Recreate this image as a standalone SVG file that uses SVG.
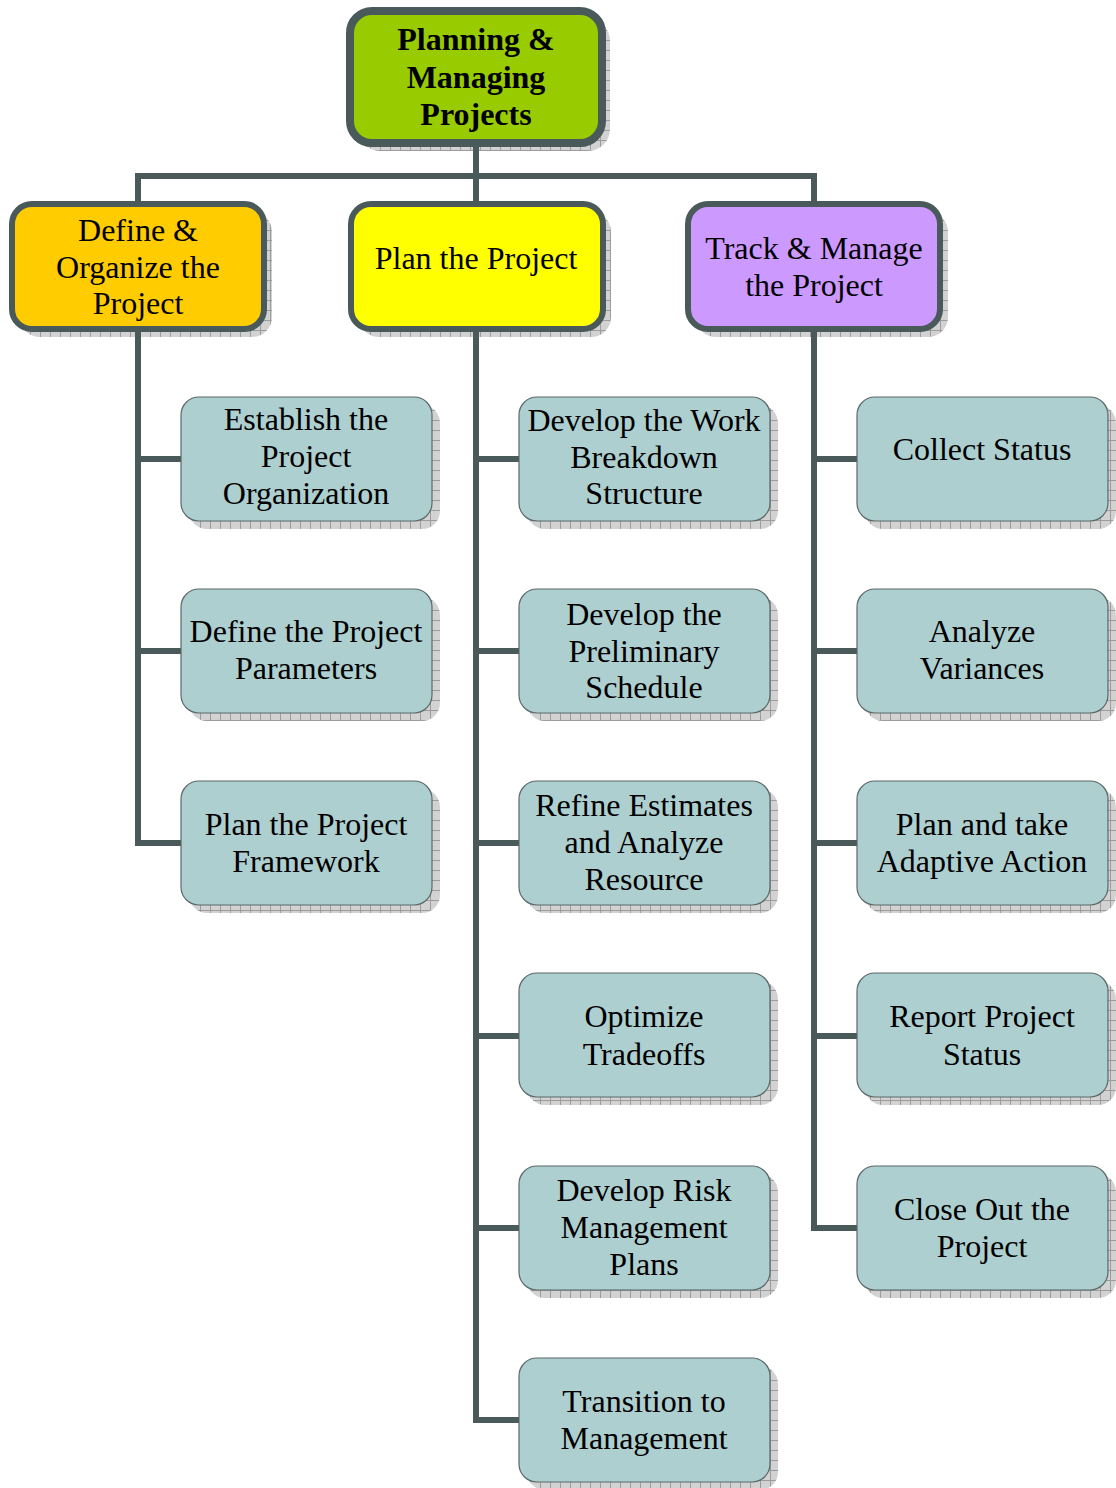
<svg xmlns="http://www.w3.org/2000/svg" width="1116" height="1488" viewBox="0 0 1116 1488">
  <defs>
    <!-- hatched drop-shadow fill -->
    <pattern id="hatch" width="10" height="10" patternUnits="userSpaceOnUse">
      <rect width="10" height="10" fill="#d2d2d2"/>
      <path d="M0 0.5H10M0.5 0V10" stroke="#9c9c9c" stroke-width="1"/>
    </pattern>
  </defs>
  <style>
    .shadow { fill: url(#hatch); }
    .top { fill: #99cc00; stroke: #4a5959; stroke-width: 8; }
    .l2 { stroke: #4a5959; stroke-width: 6; }
    .l3 { fill: #aecfd0; stroke: #5b6868; stroke-width: 1.2; }
    .wire { fill: none; stroke: #4a5959; stroke-width: 6; stroke-linejoin: miter; }
    text { font-family: "Liberation Serif", "Times New Roman", serif; font-size: 32px; fill: #000; text-anchor: middle; }
    .bold { font-weight: bold; }
  </style>
  <rect width="1116" height="1488" fill="#ffffff"/>

  <!-- drop shadows -->
  <g id="shadows">
    <rect class="shadow" x="358" y="19" width="252" height="132" rx="22"/>
    <rect class="shadow" x="20" y="212" width="252" height="125" rx="20"/>
    <rect class="shadow" x="359" y="212" width="252" height="125" rx="20"/>
    <rect class="shadow" x="696" y="212" width="252" height="125" rx="20"/>
    <rect class="shadow" x="189" y="405" width="251" height="124" rx="18"/>
    <rect class="shadow" x="189" y="597" width="251" height="124" rx="18"/>
    <rect class="shadow" x="189" y="789" width="251" height="124" rx="18"/>
    <rect class="shadow" x="527" y="405" width="251" height="124" rx="18"/>
    <rect class="shadow" x="527" y="597" width="251" height="124" rx="18"/>
    <rect class="shadow" x="527" y="789" width="251" height="124" rx="18"/>
    <rect class="shadow" x="527" y="981" width="251" height="124" rx="18"/>
    <rect class="shadow" x="527" y="1174" width="251" height="124" rx="18"/>
    <rect class="shadow" x="527" y="1366" width="251" height="124" rx="18"/>
    <rect class="shadow" x="865" y="405" width="251" height="124" rx="18"/>
    <rect class="shadow" x="865" y="597" width="251" height="124" rx="18"/>
    <rect class="shadow" x="865" y="789" width="251" height="124" rx="18"/>
    <rect class="shadow" x="865" y="981" width="251" height="124" rx="18"/>
    <rect class="shadow" x="865" y="1174" width="251" height="124" rx="18"/>
  </g>

  <!-- connectors -->
  <g id="connectors">
    <path class="wire" d="M476 143V204"/>
    <path class="wire" d="M138 204V176H814V204"/>
    <path class="wire" d="M138 329V843H181M138 459H181M138 651H181"/>
    <path class="wire" d="M476 329V1420H519M476 459H519M476 651H519M476 843H519M476 1036H519M476 1228H519"/>
    <path class="wire" d="M814 329V1228H857M814 459H857M814 651H857M814 843H857M814 1036H857"/>
  </g>

  <!-- root -->
  <g id="planning-managing-projects">
    <rect class="top" x="350" y="11" width="252" height="132" rx="22"/>
    <text class="bold" x="476" y="50">Planning &amp;</text>
    <text class="bold" x="476" y="88">Managing</text>
    <text class="bold" x="476" y="125">Projects</text>
  </g>

  <!-- second level -->
  <g id="define-organize">
    <rect class="l2" fill="#ffcc00" x="12" y="204" width="252" height="125" rx="20"/>
    <text x="138" y="241">Define &amp;</text>
    <text x="138" y="278">Organize the</text>
    <text x="138" y="314">Project</text>
  </g>
  <g id="plan-project">
    <rect class="l2" fill="#ffff00" x="351" y="204" width="252" height="125" rx="20"/>
    <text x="476" y="269">Plan the Project</text>
  </g>
  <g id="track-manage">
    <rect class="l2" fill="#cc99ff" x="688" y="204" width="252" height="125" rx="20"/>
    <text x="814" y="259">Track &amp; Manage</text>
    <text x="814" y="296">the Project</text>
  </g>

  <!-- left column -->
  <g id="establish-organization">
    <rect class="l3" x="181" y="397" width="251" height="124" rx="18"/>
    <text x="306" y="430">Establish the</text>
    <text x="306" y="467">Project</text>
    <text x="306" y="504">Organization</text>
  </g>
  <g id="define-parameters">
    <rect class="l3" x="181" y="589" width="251" height="124" rx="18"/>
    <text x="306" y="642">Define the Project</text>
    <text x="306" y="679">Parameters</text>
  </g>
  <g id="plan-framework">
    <rect class="l3" x="181" y="781" width="251" height="124" rx="18"/>
    <text x="306" y="835">Plan the Project</text>
    <text x="306" y="872">Framework</text>
  </g>

  <!-- middle column -->
  <g id="develop-wbs">
    <rect class="l3" x="519" y="397" width="251" height="124" rx="18"/>
    <text x="644" y="431">Develop the Work</text>
    <text x="644" y="468">Breakdown</text>
    <text x="644" y="504">Structure</text>
  </g>
  <g id="preliminary-schedule">
    <rect class="l3" x="519" y="589" width="251" height="124" rx="18"/>
    <text x="644" y="625">Develop the</text>
    <text x="644" y="662">Preliminary</text>
    <text x="644" y="698">Schedule</text>
  </g>
  <g id="refine-estimates">
    <rect class="l3" x="519" y="781" width="251" height="124" rx="18"/>
    <text x="644" y="816">Refine Estimates</text>
    <text x="644" y="853">and Analyze</text>
    <text x="644" y="890">Resource</text>
  </g>
  <g id="optimize-tradeoffs">
    <rect class="l3" x="519" y="973" width="251" height="124" rx="18"/>
    <text x="644" y="1027">Optimize</text>
    <text x="644" y="1065">Tradeoffs</text>
  </g>
  <g id="risk-plans">
    <rect class="l3" x="519" y="1166" width="251" height="124" rx="18"/>
    <text x="644" y="1201">Develop Risk</text>
    <text x="644" y="1238">Management</text>
    <text x="644" y="1275">Plans</text>
  </g>
  <g id="transition">
    <rect class="l3" x="519" y="1358" width="251" height="124" rx="18"/>
    <text x="644" y="1412">Transition to</text>
    <text x="644" y="1449">Management</text>
  </g>

  <!-- right column -->
  <g id="collect-status">
    <rect class="l3" x="857" y="397" width="251" height="124" rx="18"/>
    <text x="982" y="460">Collect Status</text>
  </g>
  <g id="analyze-variances">
    <rect class="l3" x="857" y="589" width="251" height="124" rx="18"/>
    <text x="982" y="642">Analyze</text>
    <text x="982" y="679">Variances</text>
  </g>
  <g id="adaptive-action">
    <rect class="l3" x="857" y="781" width="251" height="124" rx="18"/>
    <text x="982" y="835">Plan and take</text>
    <text x="982" y="872">Adaptive Action</text>
  </g>
  <g id="report-status">
    <rect class="l3" x="857" y="973" width="251" height="124" rx="18"/>
    <text x="982" y="1027">Report Project</text>
    <text x="982" y="1065">Status</text>
  </g>
  <g id="close-out">
    <rect class="l3" x="857" y="1166" width="251" height="124" rx="18"/>
    <text x="982" y="1220">Close Out the</text>
    <text x="982" y="1257">Project</text>
  </g>
</svg>
